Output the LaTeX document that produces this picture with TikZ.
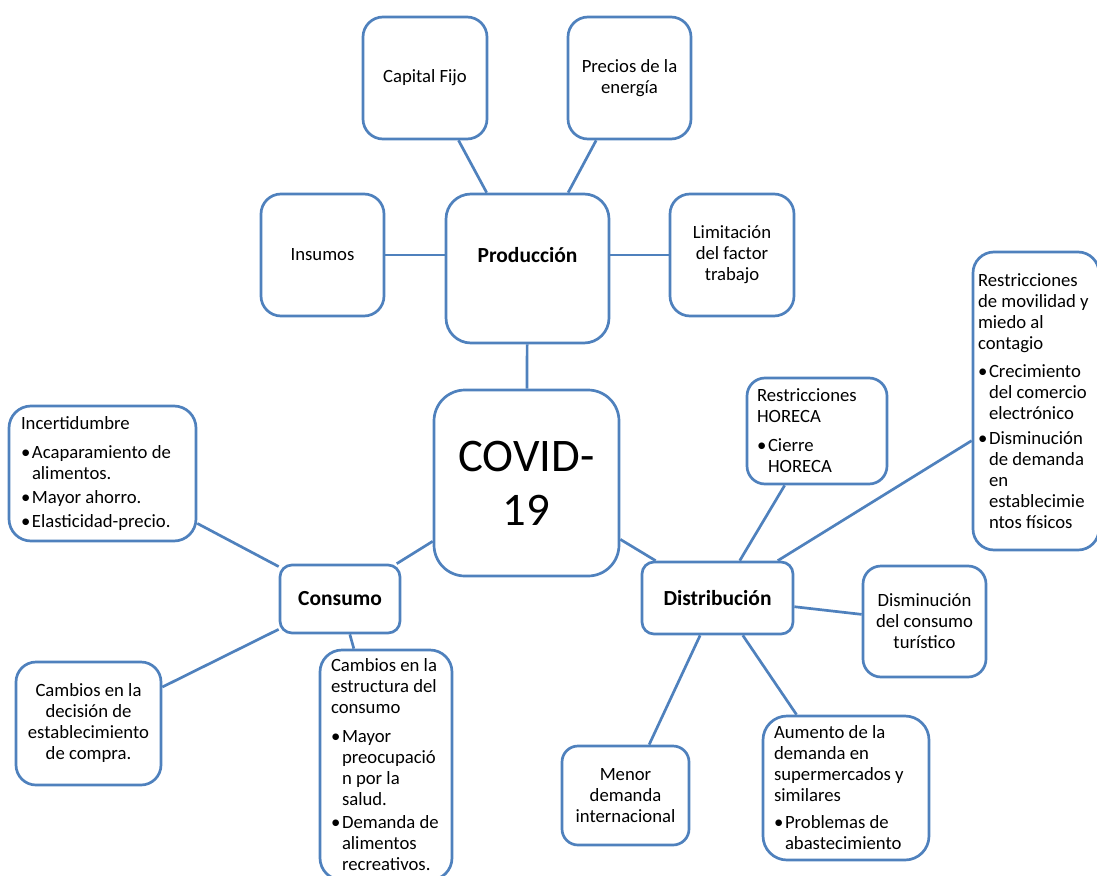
\documentclass[tikz,border=0pt]{standalone}
\usepackage{fontspec}
\setmainfont{Carlito}
\usepackage{xcolor}
\usepackage{tikz}
\usetikzlibrary{positioning}
\definecolor{boxblue}{RGB}{79,129,189}
\newcommand{\txtfont}{\fontsize{18.7}{21}\selectfont}
\newcommand{\headfont}{\fontsize{21.5}{24}\selectfont\bfseries}
\newcommand{\covidfont}{\fontsize{46.7}{54}\selectfont}
\newcommand{\bul}{\makebox[11pt][l]{\textbullet}}
\newcommand{\bulcont}{\hspace*{11pt}}

\begin{document}
\begin{tikzpicture}[x=1pt, y=-1pt, font=\txtfont]
  \tikzstyle{bubble}=[draw=boxblue, line width=2.7pt, rounded corners=20pt, fill=white, align=center, inner sep=0pt]
  \tikzstyle{note}=[bubble, align=flush left]
  \tikzstyle{link}=[draw=boxblue, line width=2.7pt]
  \useasboundingbox (0,0) rectangle (1097,875);
  % produccion
  \node[bubble, minimum width=124pt, minimum height=122pt] (capital) at (425,78) {Capital Fijo};
  \node[bubble, minimum width=123pt, minimum height=122pt] (energia) at (629.5,78) {Precios de la\\energía};
  \node[bubble, minimum width=123pt, minimum height=122pt] (insumos) at (322.5,255) {Insumos};
  \node[bubble, minimum width=163pt, minimum height=149pt, rounded corners=25pt, font=\headfont] (prod) at (527.5,268.5) {\raisebox{6.5pt}[0pt][0pt]{Producción}};
  \node[bubble, minimum width=124pt, minimum height=122pt] (trabajo) at (732,255) {Limitación\\del factor\\trabajo};
  \node[bubble, minimum width=185pt, minimum height=186pt, rounded corners=31pt, font=\covidfont] (covid) at (526.5,483) {COVID-\\19};
  % consumo
  \node[note, text width=163pt, minimum width=187pt, minimum height=135pt, rounded corners=22pt] (incert) at (102.5,473.5) {Incertidumbre\\[8pt]\bul Acaparamiento de\\\bulcont alimentos.\\[3pt]\bul Mayor ahorro.\\[3pt]\bul Elasticidad-precio.};
  \node[bubble, minimum width=120pt, minimum height=68pt, rounded corners=12pt, font=\headfont] (consumo) at (340,599) {Consumo};
  \node[bubble, minimum width=145pt, minimum height=123pt] (compra) at (88.5,723.5) {Cambios en la\\decisión de\\establecimiento\\de compra.};
  \node[note, text width=110pt, minimum width=132pt, minimum height=230pt, rounded corners=22pt] (estructura) at (386,765) {Cambios en la\\estructura del\\consumo\\[8pt]\bul Mayor\\\bulcont preocupació\\\bulcont n por la\\\bulcont salud.\\[2pt]\bul Demanda de\\\bulcont alimentos\\\bulcont recreativos.};
  % distribucion
  \node[bubble, minimum width=151pt, minimum height=72pt, rounded corners=12pt, font=\headfont] (distrib) at (717.5,598) {Distribución};
  \node[note, text width=120pt, minimum width=140pt, minimum height=106pt, rounded corners=18pt] (horeca) at (817,431) {Restricciones\\HORECA\\[8pt]\bul Cierre\\\bulcont HORECA};
  \node[note, text width=116pt, minimum width=126pt, minimum height=298pt, rounded corners=21pt] (movilidad) at (1036,401) {Restricciones\\de movilidad y\\miedo al\\contagio\\[7pt]\bul Crecimiento\\\bulcont del comercio\\\bulcont electrónico\\[4pt]\bul Disminución\\\bulcont de demanda\\\bulcont en\\\bulcont establecimie\\\bulcont ntos físicos\par\vspace*{22pt}};
  \node[bubble, minimum width=123pt, minimum height=111pt, rounded corners=18pt] (turismo) at (924.5,621.5) {Disminución\\del consumo\\turístico};
  \node[bubble, minimum width=127pt, minimum height=99pt, rounded corners=16pt] (internac) at (625.5,795.5) {Menor\\demanda\\internacional};
  \node[note, text width=144pt, minimum width=166pt, minimum height=144pt, rounded corners=24pt] (super) at (846,788) {Aumento de la\\demanda en\\supermercados y\\similares\\[6pt]\bul Problemas de\\\bulcont abastecimiento};
  % enlaces
  \draw[link] (capital) -- (prod);
  \draw[link] (energia) -- (prod);
  \draw[link] (insumos.east) -- (insumos.east -| prod.west);
  \draw[link] (trabajo.west) -- (trabajo.west -| prod.east);
  \draw[link] (prod) -- (covid);
  \draw[link] (covid) -- (consumo);
  \draw[link] (covid) -- (distrib);
  \draw[link] (consumo) -- (incert);
  \draw[link] (consumo) -- (compra);
  \draw[link] (consumo) -- (estructura);
  \draw[link] (distrib) -- (horeca);
  \draw[link] (distrib) -- (movilidad);
  \draw[link] (distrib) -- (turismo);
  \draw[link] (distrib) -- (internac);
  \draw[link] (distrib) -- (super);
\end{tikzpicture}
\end{document}
